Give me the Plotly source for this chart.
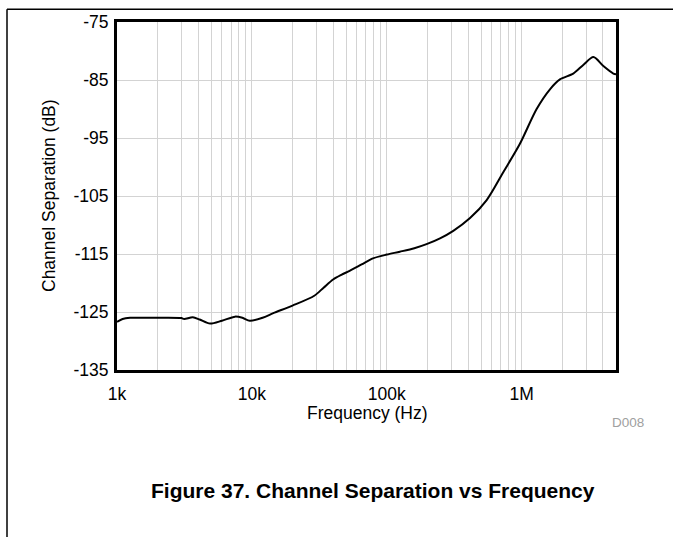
import plotly.graph_objects as go

# Data
freq_hz = [1000, 1100, 1250, 2000, 3000, 3150, 3650, 4100, 4900, 6000, 7500, 8500, 9650,
           12000, 14400, 20000, 29000, 34000, 40000, 46000, 53000, 65000, 79000, 100000, 125000,
           160000, 197000, 248000, 311000, 414000, 550000, 730000, 970000, 1290000, 1620000,
           1920000, 2410000, 2860000, 3400000, 4030000, 4780000, 5000000]
sep_db = [-126.7, -126.2, -126.0, -126.0, -126.05, -126.2, -125.9, -126.3, -127.0, -126.5, -125.8, -126.0, -126.5,
          -126.0, -125.2, -123.9, -122.2, -120.8, -119.4, -118.6, -117.9, -116.8, -115.75, -115.1, -114.6,
          -114.0, -113.3, -112.3, -111.0, -108.8, -105.7, -100.9, -96.0, -90.0, -86.6,
          -84.9, -83.9, -82.4, -81.05, -82.6, -83.9, -84.0]

x_major = [1000, 10000, 100000, 1000000]
x_major_labels = ["1k", "10k", "100k", "1M"]
y_ticks = [-135, -125, -115, -105, -95, -85, -75]

FONT = "Liberation Sans, Arial, sans-serif"

L, R, T, B = 117, 57, 18, 167
W, H = 673, 537
pw = W - L - R
ph = H - T - B

# gridline positions: every 1..9 multiple within range
grid_vals = []
grid_text = []
for dec in x_major:
    for m in range(1, 10):
        v = dec * m
        if v <= 5000000:
            grid_vals.append(v)
            grid_text.append(x_major_labels[x_major.index(dec)] if m == 1 else "")

fig = go.Figure()
fig.add_trace(go.Scatter(x=freq_hz, y=sep_db, mode="lines",
                         line=dict(color="black", width=2, shape="spline", smoothing=0.8),
                         showlegend=False, hoverinfo="skip"))

fig.update_layout(
    width=W, height=H,
    margin=dict(l=L, r=R, t=T, b=B),
    paper_bgcolor="white", plot_bgcolor="white",
    font=dict(family=FONT, size=17.5, color="black"),
    xaxis=dict(type="log", range=[3, 6.69897],
               tickmode="array", tickvals=grid_vals, ticktext=grid_text,
               showgrid=True, gridcolor="#d3d3d3", gridwidth=1,
               showline=True, linecolor="black", linewidth=3, mirror=True,
               ticks="", ticklabelstandoff=6, zeroline=False,
               tickfont=dict(size=17.5)),
    yaxis=dict(range=[-135, -75], tickmode="array", tickvals=y_ticks,
               ticktext=[str(v) for v in y_ticks],
               showgrid=True, gridcolor="#d3d3d3", gridwidth=1,
               showline=True, linecolor="black", linewidth=3, mirror=True,
               ticks="", ticklabelstandoff=2, zeroline=False,
               tickfont=dict(size=17.5)),
)


def px_to_paper(x, y):
    return (x - L) / pw, 1 - (y - T) / ph


annots = [
    ("Frequency (Hz)", 367, 413, 0, dict(size=17.5)),
    ("Channel Separation (dB)", 49, 194, -90, dict(size=17.5)),
    ("D008", 628, 423, 0, dict(size=13.5, color="#a0a0a0")),
    ("<b>Figure 37. Channel Separation vs Frequency</b>", 373, 492, 0, dict(size=21)),
]
ann_list = []
for text, x, y, ang, f in annots:
    px, py = px_to_paper(x, y)
    ann_list.append(dict(text=text, x=px, y=py, xref="paper", yref="paper",
                         xanchor="center", yanchor="middle", showarrow=False,
                         textangle=ang, font=f))
fig.update_layout(annotations=ann_list)

# page frame lines (cropped datasheet page border)
x0, y0 = px_to_paper(7, 5)
x1, _ = px_to_paper(W + 5, 5)
_, y2 = px_to_paper(7, H + 5)
fig.add_shape(type="line", xref="paper", yref="paper", x0=x0, y0=y0, x1=x1, y1=y0,
              line=dict(color="black", width=1.5))
fig.add_shape(type="line", xref="paper", yref="paper", x0=x0, y0=y0, x1=x0, y1=y2,
              line=dict(color="black", width=1.5))

fig.write_html("out.html", config={"displayModeBar": False},
               post_script="document.body.style.margin='0';document.body.style.overflow='hidden';")
